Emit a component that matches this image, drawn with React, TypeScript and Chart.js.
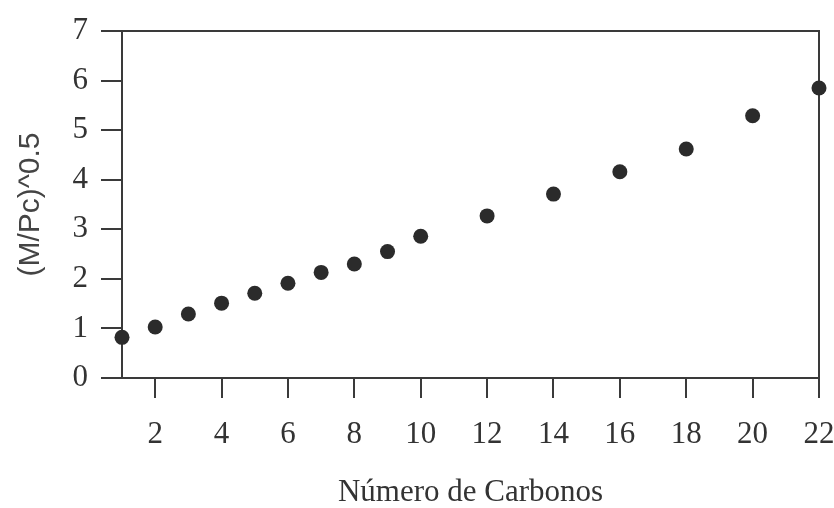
import React, { useEffect, useRef } from "react";
import { Chart, registerables } from "chart.js";

Chart.register(...registerables);

const carbonNumbers = [1, 2, 3, 4, 5, 6, 7, 8, 9, 10, 12, 14, 16, 18, 20, 22];
const sqrtMPc = [0.82, 1.03, 1.29, 1.51, 1.71, 1.91, 2.13, 2.3, 2.55, 2.86, 3.27, 3.71, 4.16, 4.62, 5.29, 5.85];
const xTickValues = [2, 4, 6, 8, 10, 12, 14, 16, 18, 20, 22];
const yTickValues = [0, 1, 2, 3, 4, 5, 6, 7];
const xTitle = "Número de Carbonos";
const yTitle = "(M/Pc)^0.5";

const axisColor = "#3a3a3a";
const textColor = "#333333";

const framePlugin = {
  id: "frame",
  beforeDatasetsDraw(chart: any) {
    const { ctx, chartArea } = chart;
    ctx.save();
    ctx.strokeStyle = axisColor;
    ctx.lineWidth = 2;
    ctx.beginPath();
    ctx.moveTo(chartArea.left, chartArea.top);
    ctx.lineTo(chartArea.right, chartArea.top);
    ctx.lineTo(chartArea.right, chartArea.bottom);
    ctx.stroke();
    ctx.restore();
  },
};

export default function App() {
  const ref = useRef<HTMLCanvasElement>(null);
  useEffect(() => {
    document.body.style.margin = "0";
    const chart = new Chart(ref.current!, {
      type: "scatter",
      data: {
        datasets: [
          {
            data: carbonNumbers.map((x, i) => ({ x, y: sqrtMPc[i] })),
            backgroundColor: "#2b2b2b",
            borderWidth: 0,
            pointRadius: 7.5,
            clip: false as any,
          },
        ],
      },
      options: {
        animation: false,
        responsive: false,
        layout: { padding: { top: 31, right: 15, bottom: 0, left: 0 } },
        plugins: { legend: { display: false }, tooltip: { enabled: false } },
        scales: {
          x: {
            type: "linear",
            min: 1,
            max: 22,
            afterBuildTicks: (s: any) => {
              s.ticks = xTickValues.map((v) => ({ value: v }));
            },
            afterFit: (s: any) => {
              s.height = 130;
              s.paddingLeft = 0;
              s.paddingRight = 0;
            },
            grid: { drawOnChartArea: false, tickLength: 20, color: axisColor, lineWidth: 2 },
            border: { display: true, color: axisColor, width: 2 },
            ticks: {
              autoSkip: false,
              maxRotation: 0,
              padding: 18,
              color: textColor,
              font: { family: "'Liberation Serif', 'Times New Roman', serif", size: 31 },
              callback: (v: any) => String(v),
            },
            title: {
              display: true,
              text: xTitle,
              color: textColor,
              font: { family: "'Liberation Serif', 'Times New Roman', serif", size: 31 },
              padding: { top: 0, bottom: -3 },
            },
          },
          y: {
            type: "linear",
            min: 0,
            max: 7,
            afterBuildTicks: (s: any) => {
              s.ticks = yTickValues.map((v) => ({ value: v }));
            },
            afterFit: (s: any) => {
              s.width = 122;
              s.paddingTop = 0;
              s.paddingBottom = 0;
            },
            grid: { drawOnChartArea: false, tickLength: 21, color: axisColor, lineWidth: 2 },
            border: { display: true, color: axisColor, width: 2 },
            ticks: {
              padding: 13,
              color: textColor,
              font: { family: "'Liberation Serif', 'Times New Roman', serif", size: 31 },
              callback: (v: any) => String(v),
            },
            title: {
              display: true,
              text: yTitle,
              color: "#444444",
              font: { family: "'Liberation Sans', Arial, sans-serif", size: 30 },
              padding: { top: 13, bottom: 0 },
            },
          },
        },
      },
      plugins: [framePlugin],
    });
    return () => chart.destroy();
  }, []);
  return (
    <div style={{ width: 834, height: 508, background: "#fff" }}>
      <canvas ref={ref} width={834} height={508} style={{ display: "block" }} />
    </div>
  );
}
